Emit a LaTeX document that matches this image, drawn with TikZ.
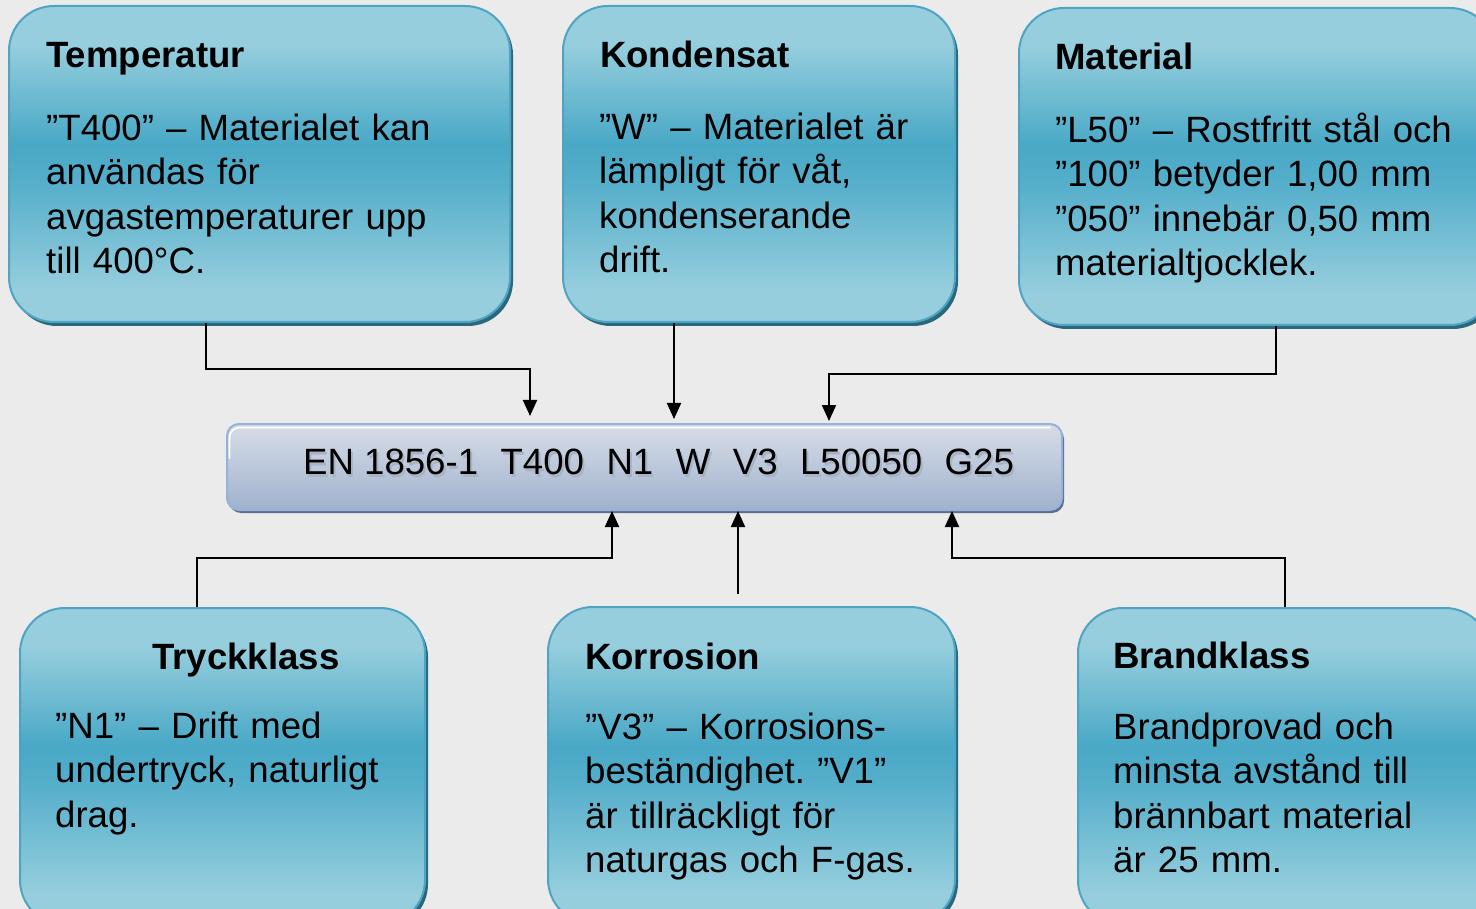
\documentclass[tikz,border=0pt]{standalone}
\usepackage{fontspec}
\setmainfont{Liberation Sans}
\usetikzlibrary{arrows.meta,shadows}
\frenchspacing
\definecolor{bg}{RGB}{235,235,235}
\definecolor{tlight}{RGB}{150,206,221}
\definecolor{tdark}{RGB}{72,168,198}
\definecolor{tmid}{RGB}{86,175,203}
\definecolor{tborder}{RGB}{78,164,194}
\definecolor{tshadow}{RGB}{42,105,125}
\definecolor{btop}{RGB}{215,221,230}
\definecolor{bbot}{RGB}{160,178,206}
\definecolor{bborder}{RGB}{150,178,214}
\definecolor{bshadow}{RGB}{92,110,142}
\definecolor{txtshadow}{RGB}{168,179,195}
\pgfdeclareverticalshading{tealshade}{100bp}{color(0bp)=(tlight); color(25bp)=(tlight); color(30bp)=(tlight); color(47bp)=(tmid); color(53bp)=(tdark); color(69bp)=(tlight); color(75bp)=(tlight); color(100bp)=(tlight)}
\pgfdeclareverticalshading{barshade}{100bp}{color(0bp)=(bbot); color(25bp)=(bbot); color(75bp)=(btop); color(100bp)=(btop)}
\tikzset{
  tbox/.style={shade, shading=tealshade, draw=tborder, line width=2pt, rounded corners=45pt, inner sep=0pt,
    drop shadow={shadow xshift=3pt, shadow yshift=-4pt, fill=tshadow, opacity=1}},
  barbox/.style={shade, shading=barshade, draw=bborder, line width=2pt, rounded corners=12pt, inner sep=0pt,
    drop shadow={shadow xshift=2pt, shadow yshift=-3pt, fill=bshadow, opacity=1}},
  titletext/.style={font=\fontsize{36.6}{44.5}\selectfont\bfseries, inner sep=0pt, anchor=base west},
  bodytext/.style={font=\fontsize{36.6}{44.5}\selectfont, inner sep=0pt, anchor=north west, text width=470pt, align=left},
  codetext/.style={font=\fontsize{36.6}{44.5}\selectfont, inner sep=0pt, anchor=base west},
  conn/.style={line width=2pt, draw=black, -{Triangle[width=14pt,length=16pt]}}
}
\newcommand{\gp}{\hspace*{22.5pt}}
\begin{document}
\begin{tikzpicture}[x=1pt,y=-1pt]
\useasboundingbox (0,0) rectangle (1476,909);
\fill[bg] (0,0) rectangle (1476,909);
\clip (0,0) rectangle (1476,909);

% boxes
\node[tbox, minimum width=501pt, minimum height=316pt] (temp) at (259.5,164) {};
\node[tbox, minimum width=392pt, minimum height=316pt] (kond) at (759,164) {};
\node[tbox, minimum width=476pt, minimum height=317pt] (mat) at (1257,166.5) {};
\node[tbox, minimum width=405pt, minimum height=317pt] (tryck) at (222.5,766.5) {};
\node[tbox, minimum width=407pt, minimum height=317pt] (korr) at (751.5,765.5) {};
\node[tbox, minimum width=412pt, minimum height=317pt] (brand) at (1284,766.5) {};

% central bar
\node[barbox, minimum width=835pt, minimum height=86pt] (bar) at (644.5,467) {};
\draw[white, line width=1.6pt, rounded corners=10pt, line cap=round] (229.5,458) |- (1050,427.5);
\node[codetext, text=txtshadow] (codeshadow) at (305,477) {EN 1856-1\gp T400\gp N1\gp W\gp V3\gp L50050\gp G25};
\node[codetext] (code) at (303,474) {EN 1856-1\gp T400\gp N1\gp W\gp V3\gp L50050\gp G25};

% texts
\node[titletext] (tempT) at (46,68) {Temperatur};
\node[bodytext] (tempB) at (46,108.85) {\strut”T400” – Materialet kan\\användas för\\avgastemperaturer upp\\till 400°C.};

\node[titletext] (kondT) at (600,68) {Kondensat};
\node[bodytext] (kondB) at (599,107.85) {\strut”W” – Materialet är\\lämpligt för våt,\\kondenserande\\drift.};

\node[titletext] (matT) at (1055,70) {Material};
\node[bodytext] (matB) at (1055,110.85) {\strut”L50” – Rostfritt stål och\\”100” betyder 1,00 mm\\”050” innebär 0,50 mm\\materialtjocklek.};

\node[titletext] (tryckT) at (152,669) {Tryckklass};
\node[bodytext] (tryckB) at (55,706.85) {\strut”N1” – Drift med\\undertryck, naturligt\\drag.};

\node[titletext] (korrT) at (585,669) {Korrosion};
\node[bodytext] (korrB) at (585,707.85) {\strut”V3” – Korrosions-\\beständighet. ”V1”\\är tillräckligt för\\naturgas och F-gas.};

\node[titletext] (brandT) at (1113,668) {Brandklass};
\node[bodytext] (brandB) at (1113,707.85) {\strut Brandprovad och\\minsta avstånd till\\brännbart material\\är 25 mm.};

% connector coordinates
\coordinate (j1) at (206,369);
\coordinate (a1) at (530,0);
\coordinate (a2) at (674,0);
\coordinate (j3) at (1276,374);
\coordinate (a3) at (829,0);
\coordinate (j4) at (197,558);
\coordinate (a4) at (612,0);
\coordinate (a5) at (738,0);
\coordinate (j6) at (1285,558);
\coordinate (a6) at (952,0);

% connectors
\draw[conn, shorten >=7pt] (temp.south -| j1) -- (j1) -| (bar.north -| a1);
\draw[conn, shorten >=4pt] (kond.south -| a2) -- (bar.north -| a2);
\draw[conn, shorten >=2pt] (mat.south -| j3) -- (j3) -| (bar.north -| a3);
\draw[conn] (tryck.north -| j4) -- (j4) -| (bar.south -| a4);
\draw[conn, shorten <=12pt] (korr.north -| a5) -- (bar.south -| a5);
\draw[conn] (brand.north -| j6) -- (j6) -| (bar.south -| a6);
\end{tikzpicture}
\end{document}
